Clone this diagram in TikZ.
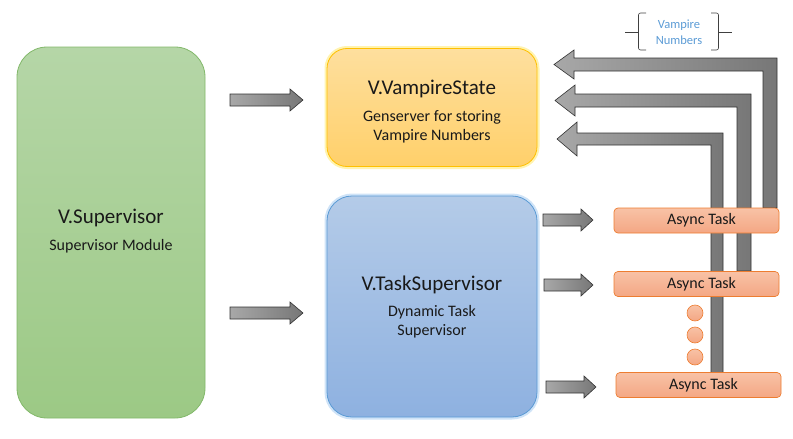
\documentclass[tikz,border=0pt]{standalone}
\usepackage{fontspec}
\setmainfont{Carlito}
\begin{document}
\begin{tikzpicture}[x=1pt,y=-1pt,
  box/.style={rounded corners=#1, inner sep=0pt},
  greenbox/.style={box=30pt, top color=grbtop, bottom color=grbbot, draw=grbline, line width=0.8pt},
  yellowbox/.style={box=20pt, top color=yltop, bottom color=ylbot, draw=ylline, line width=0.8pt},
  bluebox/.style={box=25pt, top color=bltop, bottom color=blbot, draw=blline, line width=0.8pt},
  ttl/.style={font=\fontsize{21}{24}\selectfont, text=black!90, inner sep=0pt},
  sub/.style={font=\fontsize{16}{19}\selectfont, text=black!90, align=center, inner sep=0pt},
  taskbox/.style={rounded corners=4pt, top color=ortop, bottom color=orbot, draw=orline, line width=0.7pt,
     minimum width=165pt, minimum height=25pt, inner sep=0pt, font=\fontsize{16}{18}\selectfont, text=black!90},
  dotnode/.style={circle, minimum size=16pt, inner sep=0pt, top color=ortop, bottom color=orbot, draw=orline, line width=0.6pt},
  blockarrow/.style={left color=arlight, right color=ardark, draw=black!80, line width=0.6pt},
  glowy/.style={draw=ylglow, line width=5pt},
  glowb/.style={draw=blglow, line width=5pt},
]
\definecolor{grbtop}{HTML}{B5D6A7}
\definecolor{grbbot}{HTML}{9CC985}
\definecolor{grbline}{HTML}{82B86A}
\definecolor{yltop}{HTML}{FEDF9E}
\definecolor{ylbot}{HTML}{FFD06A}
\definecolor{ylline}{HTML}{FFC000}
\definecolor{ylglow}{HTML}{FFF3B0}
\definecolor{bltop}{HTML}{B4CBE8}
\definecolor{blbot}{HTML}{8EB1E0}
\definecolor{blline}{HTML}{5B9BD5}
\definecolor{blglow}{HTML}{CFE3F7}
\definecolor{ortop}{HTML}{F8C2A6}
\definecolor{orbot}{HTML}{F4A784}
\definecolor{orline}{HTML}{ED7D31}
\definecolor{arlight}{HTML}{A8A8A8}
\definecolor{ardark}{HTML}{777777}
\definecolor{vnblue}{HTML}{5B9BD5}

\useasboundingbox (0,0) rectangle (793,439);

% glows
\draw[glowy, rounded corners=20pt] (327,48.5) rectangle (537,166.5);
\draw[glowb, rounded corners=25pt] (327,196) rectangle (537,417);

% main boxes
\node[greenbox, minimum width=188pt, minimum height=371pt] (sup) at (111,232.5) {};
\node[ttl] (supt) at (111,218) {V.Supervisor};
\node[sub] (sups) at (111,246) {Supervisor Module};

\node[yellowbox, minimum width=210pt, minimum height=118pt] (vs) at (432,107.5) {};
\node[ttl] (vst) at (432,89) {V.VampireState};
\node[sub] (vss) at (432,126.5) {Genserver for storing\\Vampire Numbers};

\node[bluebox, minimum width=210pt, minimum height=221pt] (ts) at (432,306.5) {};
\node[ttl] (tst) at (432,285) {V.TaskSupervisor};
\node[sub] (tss) at (432,321.5) {Dynamic Task\\Supervisor};

% bent return arrows (behind task boxes)
\shadedraw[blockarrow] (557,139) -- (577,122) -- (577,133) -- (723,133) -- (723,373) -- (711,373) -- (711,145) -- (577,145) -- (577,156) -- cycle;
\shadedraw[blockarrow] (555,100.5) -- (575,85) -- (575,94) -- (751,94) -- (751,271) -- (737,271) -- (737,107) -- (575,107) -- (575,116) -- cycle;
\shadedraw[blockarrow] (554,64.5) -- (574,50) -- (574,58) -- (777,58) -- (777,208) -- (763,208) -- (763,71) -- (574,71) -- (574,79) -- cycle;

% task boxes
\node[taskbox] (t1) at (696.5,220.5) {\hspace*{10pt}Async Task};
\node[taskbox] (t2) at (696.5,284) {\hspace*{10pt}Async Task};
\node[taskbox] (t3) at (698.5,385) {\hspace*{10pt}Async Task};

\node[dotnode] (d1) at (695,313) {};
\node[dotnode] (d2) at (695,335) {};
\node[dotnode] (d3) at (695,357) {};

% straight block arrows
\shadedraw[blockarrow] (230,94) -- (290,94) -- (290,89) -- (303,100) -- (290,111) -- (290,106) -- (230,106) -- cycle;
\shadedraw[blockarrow] (230,307) -- (290,307) -- (290,302) -- (303,313) -- (290,324) -- (290,319) -- (230,319) -- cycle;
\shadedraw[blockarrow] (543,214) -- (581,214) -- (581,209) -- (593,220) -- (581,231) -- (581,226) -- (543,226) -- cycle;
\shadedraw[blockarrow] (544,279) -- (581,279) -- (581,274) -- (593,285) -- (581,296) -- (581,291) -- (544,291) -- cycle;
\shadedraw[blockarrow] (546,381) -- (584,381) -- (584,376) -- (596,387) -- (584,398) -- (584,393) -- (546,393) -- cycle;

% brace label
\node[font=\fontsize{12.5}{16}\selectfont, text=vnblue, align=center, inner sep=0pt] (vn) at (679,32) {Vampire\\Numbers};
\draw[black!75, line width=0.6pt, rounded corners=2pt] (646,13) -- (638.5,13) -- (638.5,50) -- (646,50);
\draw[black!75, line width=0.6pt] (625,32) -- (638.5,32);
\draw[black!75, line width=0.6pt, rounded corners=2pt] (711,13) -- (718.5,13) -- (718.5,50) -- (711,50);
\draw[black!75, line width=0.6pt] (718.5,32) -- (732,32);
\end{tikzpicture}
\end{document}
